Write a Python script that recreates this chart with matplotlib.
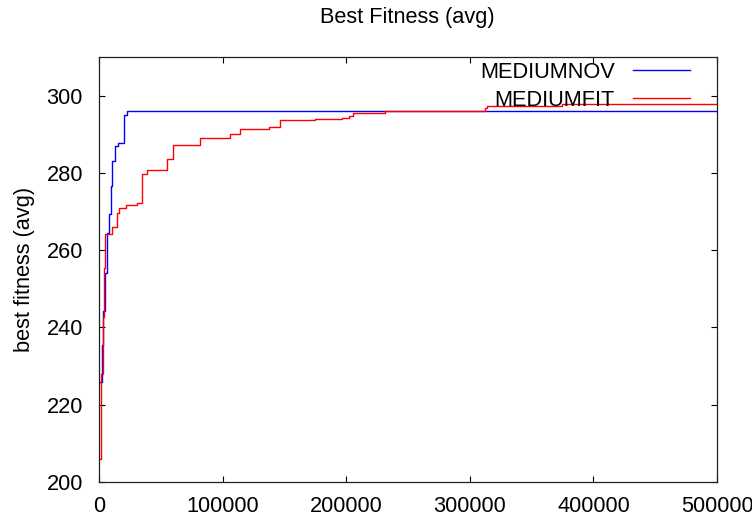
import matplotlib
matplotlib.use('Agg')
import matplotlib.pyplot as plt

# step curves: evaluations -> best fitness (avg)
nov_evals = [800, 2200, 3000, 4600, 6700, 8300, 9500, 10800, 12900, 15100,
             20500, 22900, 500000]
nov_fit = [226.0, 235.5, 244.3, 254.2, 264.5, 269.3, 276.5, 283.0, 286.9,
           287.7, 295.0, 295.9, 295.9]

fit_evals = [0, 1400, 3000, 4000, 5000, 10500, 14300, 16400, 21900, 30800,
             34600, 38600, 54800, 60100, 81700, 106000, 114100, 137800,
             146400, 174800, 196200, 202200, 205200, 231200, 312300, 314200,
             374300, 500000]
fit_fit = [206.0, 228.0, 242.6, 255.5, 264.3, 266.0, 269.7, 271.0, 271.6,
           272.3, 279.7, 280.8, 283.7, 287.3, 289.0, 290.1, 291.4, 291.8,
           293.7, 293.9, 294.3, 294.8, 295.5, 296.1, 296.9, 297.4, 297.8,
           297.8]

x_ticks = [0, 100000, 200000, 300000, 400000, 500000]
y_ticks = [200, 220, 240, 260, 280, 300]

plt.rcParams['font.family'] = ['Liberation Sans', 'DejaVu Sans']
FS = 15.7

fig = plt.figure(figsize=(7.52, 5.17), dpi=100)
ax = fig.add_axes([99 / 752, 35 / 517, 618 / 752, 425 / 517])

ax.step(nov_evals, nov_fit, where='post', color='#0000ff', lw=1.0, label='MEDIUMNOV')
ax.step(fit_evals, fit_fit, where='post', color='#ff0000', lw=1.0, label='MEDIUMFIT')

ax.set_xlim(0, 500000)
ax.set_ylim(200, 310)
ax.set_xticks(x_ticks)
ax.set_xticklabels([str(t) for t in x_ticks])
ax.set_yticks(y_ticks)
ax.set_yticklabels([str(t) for t in y_ticks])
ax.tick_params(direction='in', length=4.5, width=0.8, top=True, right=True,
               labelsize=FS, pad=11.5)
ax.tick_params(axis='x', pad=10)
for s in ax.spines.values():
    s.set_linewidth(0.9)
    s.set_color('#202020')

ax.set_ylabel('best fitness (avg)', fontsize=FS, labelpad=8)
fig.text(407 / 752, 1 - 17 / 517, 'Best Fitness (avg)', fontsize=FS,
         ha='center', va='center')

leg = ax.legend(loc='upper right', bbox_to_anchor=((690 - 99) / 618, (482 - 62) / 425),
                frameon=False, markerfirst=False, fontsize=FS, borderpad=0,
                borderaxespad=0, handlelength=2.6, handletextpad=0.85,
                labelspacing=0.3)

fig.savefig('out.png', dpi=100)
